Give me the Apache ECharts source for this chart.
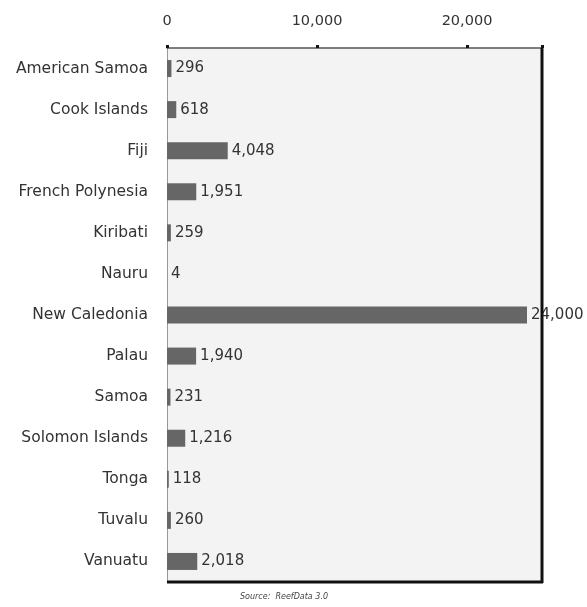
<!DOCTYPE html>
<html><head><meta charset="utf-8">
<script src="https://cdn.jsdelivr.net/npm/echarts@6/dist/echarts.min.js"></script>
<style>html,body{margin:0;padding:0;background:#fff}#c{width:587px;height:607px}</style>
</head><body><div id="c"></div>
<script>
const categories = ["American Samoa","Cook Islands","Fiji","French Polynesia","Kiribati","Nauru","New Caledonia","Palau","Samoa","Solomon Islands","Tonga","Tuvalu","Vanuatu"];
const values = [296,618,4048,1951,259,4,24000,1940,231,1216,118,260,2018];
const tickValues = [0,10000,20000];
const sourceText = "Source:  ReefData 3.0";

const chart = echarts.init(document.getElementById('c'));
chart.setOption({
  backgroundColor:'#fff',
  animation:false,
  title:{text:sourceText,left:279,textAlign:'center',top:588,textStyle:{fontSize:8,fontStyle:'italic',fontWeight:'normal',color:'#444',fontFamily:'DejaVu Sans'}},
  grid:{left:167,right:45,top:48,bottom:25,show:true,backgroundColor:'#f3f3f3',borderWidth:0},
  xAxis:{type:'value',position:'top',min:0,max:25000,interval:10000,
    axisLine:{show:true,lineStyle:{color:'#555',width:1.5}},
    axisTick:{show:true,length:3,lineStyle:{color:'#111',width:3}},
    splitLine:{show:false},
    axisLabel:{color:'#333',fontSize:14.5,fontFamily:'DejaVu Sans',margin:19,
      formatter:v=>tickValues.includes(v)?v.toLocaleString('en-US'):''}},
  yAxis:{type:'category',data:categories,inverse:true,
    axisLine:{show:true,lineStyle:{color:'#999',width:1}},
    axisTick:{show:false},
    axisLabel:{color:'#333',fontSize:15.5,fontFamily:'DejaVu Sans',margin:19}},
  series:[{type:'bar',data:values,barWidth:17,
    itemStyle:{color:'#666'},
    label:{show:true,position:'right',distance:4,color:'#333',fontSize:15,fontFamily:'DejaVu Sans',
      formatter:p=>p.value.toLocaleString('en-US')}}],
  graphic:[
    {type:'line',shape:{x1:542,y1:48,x2:542,y2:583},style:{stroke:'#111',lineWidth:3},z:100},
    {type:'line',shape:{x1:167,y1:582,x2:543,y2:582},style:{stroke:'#111',lineWidth:3},z:100}
  ]
});
</script></body></html>
